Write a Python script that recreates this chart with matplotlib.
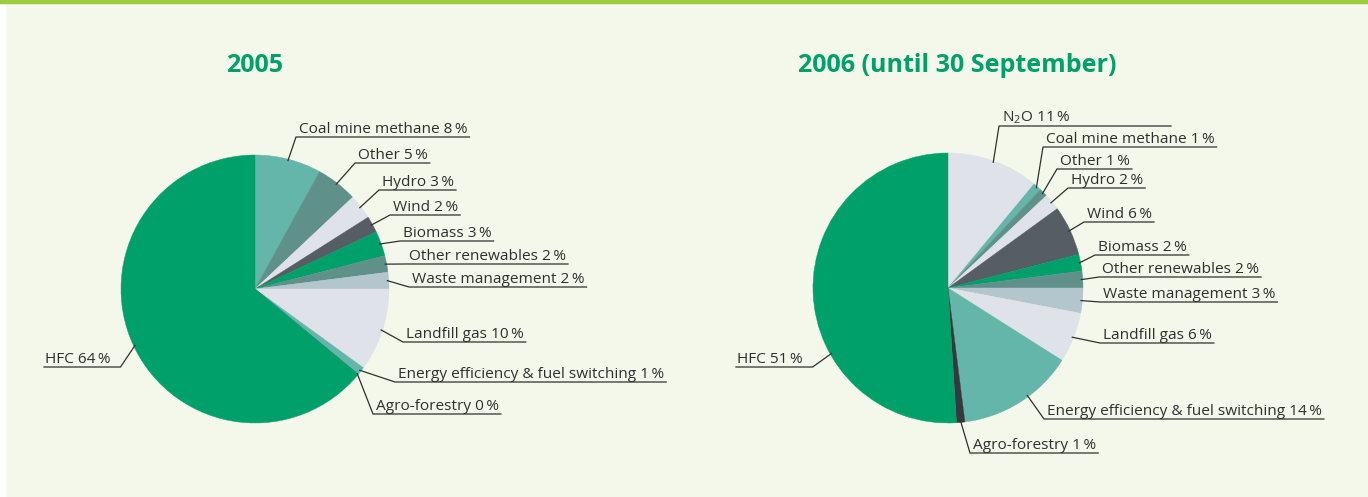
"""
plot.py - two CDM project-type pies (2005 and 2006 until 30 September)
with underlined labels and leader lines, drawn on a pixel-sized canvas.
"""
import numpy as np
import matplotlib
matplotlib.use("Agg")
import matplotlib.pyplot as plt

plt.rcParams["font.family"] = ["Open Sans", "DejaVu Sans"]
plt.rcParams["mathtext.fontset"] = "custom"
plt.rcParams["mathtext.rm"] = "Open Sans"

W, H = 1368, 497
BG = "#f3f8ea"
TITLE_GREEN = "#00a06a"
TEXT = "#2f2f2f"

# colours used by the slices
GREEN = "#00a06a"
TEAL = "#63b6a9"
GREYTEAL = "#5f918a"
LIGHT = "#dfe2e8"
DARK = "#565e63"
BLUEGREY = "#b4c6cd"
BLACKISH = "#333a3c"

# ---- data ----------------------------------------------------------------
cats_2005 = ["Coal mine methane", "Other", "Hydro", "Wind", "Biomass",
             "Other renewables", "Waste management", "Landfill gas",
             "Energy efficiency & fuel switching", "Agro-forestry", "HFC"]
vals_2005 = [8, 5, 3, 2, 3, 2, 2, 10, 1, 0, 64]

cats_2006 = ["N$\\mathregular{_2}$O", "Coal mine methane", "Other", "Hydro",
             "Wind", "Biomass", "Other renewables", "Waste management",
             "Landfill gas", "Energy efficiency & fuel switching",
             "Agro-forestry", "HFC"]
vals_2006 = [11, 1, 1, 2, 6, 2, 2, 3, 6, 14, 1, 51]

# ---- styles / layout (pixels) ---------------------------------------------
cols_2005 = [TEAL, GREYTEAL, LIGHT, DARK, GREEN, GREYTEAL, BLUEGREY, LIGHT,
             TEAL, BLACKISH, GREEN]
cols_2006 = [LIGHT, TEAL, GREYTEAL, LIGHT, DARK, GREEN, GREYTEAL, BLUEGREY,
             LIGHT, TEAL, BLACKISH, GREEN]

# label text left x and underline y, per slice
lab_2005 = [(299, 137), (358, 163), (382, 190), (393, 215), (403, 241),
            (409, 264), (412, 287), (406, 342), (398, 382), (376, 414),
            (45, 367)]
lab_2006 = [(1002, 126), (1046, 147), (1060, 169), (1071, 188), (1087, 222),
            (1098, 255), (1102, 277), (1103, 302), (1103, 343), (1047, 419),
            (973, 453), (737, 367)]
# where on the slice the leader starts (fraction of slice), default middle
anchor_2006 = {11: 0.35, 9: 0.42}
# underline end overrides
uend_2006 = {0: 1171}


def draw_pie(ax, fig, vals, cats, cols, labs, center, radius, title, title_x,
             anchor=None, uend=None):
    anchor = anchor or {}
    uend = uend or {}
    wedges, _ = ax.pie(vals, colors=cols, startangle=-90, counterclock=True,
                       center=center, radius=radius,
                       wedgeprops=dict(linewidth=0.3))
    for w, c in zip(wedges, cols):
        w.set_edgecolor(c)

    ax.text(title_x, 66, title, ha="center", va="center", fontsize=18,
            fontweight="bold", color=TITLE_GREEN)

    fig.canvas.draw()
    for i, (w, name, v, (tx, uy)) in enumerate(zip(wedges, cats, vals, labs)):
        f = anchor.get(i, 0.5)
        ang = np.deg2rad(w.theta1 + f * (w.theta2 - w.theta1))
        px = center[0] + 0.99 * radius * np.cos(ang)
        py = center[1] + 0.99 * radius * np.sin(ang)
        t = ax.text(tx, uy - 4, f"{name} {v}\u2009%", fontsize=11.1,
                    color=TEXT, ha="left", va="baseline")
        tw = t.get_window_extent(fig.canvas.get_renderer()).width
        if tx < center[0]:
            x0, x1 = tx - 1, tx + tw + 10
            ax.plot([x0, x1, px], [uy, uy, py], color=TEXT, lw=0.9,
                    solid_joinstyle="miter")
        else:
            x0, x1 = tx - 3, uend.get(i, tx + tw + 2)
            ax.plot([px, x0, x1], [py, uy, uy], color=TEXT, lw=0.9,
                    solid_joinstyle="miter")


fig = plt.figure(figsize=(W / 100, H / 100), dpi=100, facecolor=BG)
ax = fig.add_axes([0, 0, 1, 1])

draw_pie(ax, fig, vals_2005, cats_2005, cols_2005, lab_2005, (255, 289), 134,
         "2005", 255)
draw_pie(ax, fig, vals_2006, cats_2006, cols_2006, lab_2006, (948, 288), 135,
         "2006 (until 30 September)", 957, anchor_2006, uend_2006)

# frame: white strip on the left, green rule at the top
ax.add_patch(plt.Rectangle((0, 0), 5, H, color="white", zorder=0))
ax.add_patch(plt.Rectangle((0, 0), W, 3, color="#9ccb3b", zorder=5))

ax.set_xlim(0, W)
ax.set_ylim(H, 0)
ax.set_aspect("equal")
ax.axis("off")

fig.savefig("out.png", dpi=100, facecolor=BG)
